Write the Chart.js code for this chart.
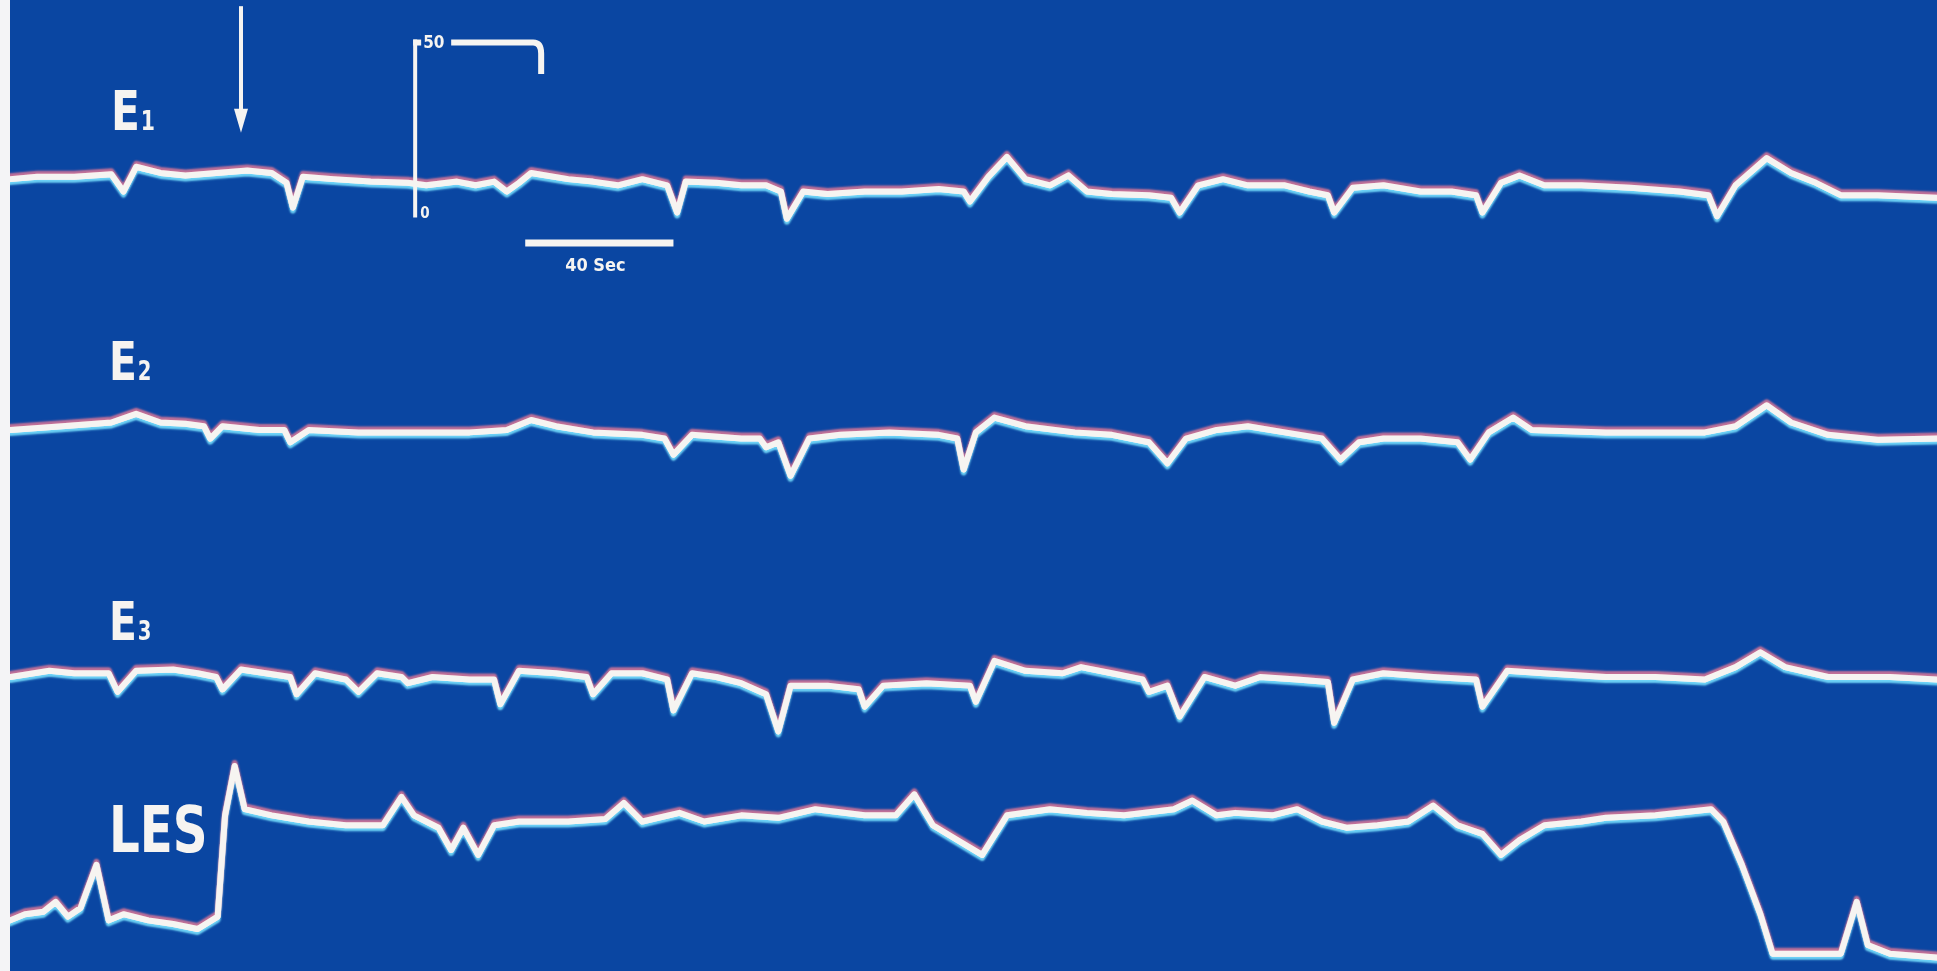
<!DOCTYPE html>
<html>
<head>
<meta charset="utf-8">
<title>Oesophageal manometry trace</title>
<script src="https://cdn.jsdelivr.net/npm/chart.js@4.4.1/dist/chart.umd.min.js"></script>
<style>
  html, body { margin: 0; padding: 0; background: #f4f4f6; overflow: hidden; }
  #wrap {
    position: absolute; left: 10px; top: 0;
    width: 1927px; height: 971px;
    background: #0a46a2;
  }
  canvas { display: block; }
</style>
</head>
<body>
<div id="wrap"><canvas id="trace" width="1927" height="971"></canvas></div>
<script>
/* time in seconds (40 s scale bar), pressure in mmHg above each channel's zero */

const E1_TIME = [2.7,10,20,30,33.3,36.7,43.3,50,58.3,66.7,73.3,77.3,79,81.7,90,100,110,115,123.3,128.3,
  133.3,136.7,140,143.3,153.3,160,166.7,173.3,180,182.7,185,193.3,200,206.7,210.7,212.3,216.7,223.3,233.3,243.3,
  253.3,260,261.7,266.7,271.7,276.7,283.3,288.3,293.3,300,310,316,318.3,323.3,330,336.7,346.7,353.3,358.3,360,
  365,373.3,383.3,391.7,398.3,400,405,410,416.7,426.7,440,453.3,461,463.3,468.3,476.7,483.3,490,496.7,506.7,522.7];
const E1_MMHG = [10,10.8,10.8,11.6,6,14,12,11.2,12,12.8,12,8.8,0.8,10.8,10,9.2,8.8,8,9.2,8,
  9.2,6,8.8,12,10,9.2,8,10,8,-0.8,9.2,8.8,8,8,6,-2.8,6,5.2,6,6,
  6.8,6,2.8,10.8,17.2,10,8,11.2,6,5.2,4.8,4,-0.8,8,10,8,8,6,4.8,-0.8,
  7.2,8,6,6,4.8,-0.8,8.8,11.2,8,8,7.2,6,4.8,-2,8,16.8,12,8.8,4.8,4.8,4];

const E2_TIME = [2.7,16.7,30,36.7,43.3,50,55,56.7,60,70,76.7,78.3,83.3,96.7,110,126.7,136.7,143.3,150,160,
  173.3,179.3,181.7,186.7,200,205,206.7,210,213.3,218.3,226.7,240,253.3,258.3,260,263.3,268.3,276.7,290,300,
  310,315,320,328.3,336.7,346.7,356.7,361.7,366.7,373.3,383.3,393.3,396.7,401.7,408.3,413.3,433.3,460,468.3,476.7,
  483.3,493.3,506.7,522.7];
const E2_MMHG = [8.8,10,11.2,14,11.2,10.8,10,6,10,8.8,8.8,4.8,8.8,8,8,8,8.8,12,10,8,
  7.2,6,0.8,7.2,6,6,3.2,4.8,-6,6,7.2,8,7.2,6,-4,8,12.8,10,8,7.2,
  4.8,-2,6,8.8,10,8,6,-0.8,4.8,6,6,4.8,-0.8,8,12.8,8.8,8,8,10,16.8,
  11.2,7.2,5.6,6];

const E3_TIME = [2.7,13.3,20,29.3,31.7,36.7,46.7,53.3,58.3,60,65,71.7,78.3,80,85,93.3,96.7,101.7,108.3,110,
  116.7,126.7,133.3,135,140,150,158.3,160,165,173.3,180,181.7,186.7,193.3,200,206.7,210,213.3,223.3,231.7,
  233.3,238.3,250,261.7,263.3,268.3,276.7,286.7,291.7,300,308.3,310,315,318.3,325,333.3,340,350,358.3,360,
  365,373.3,386.7,398.3,400,406.7,416.7,433.3,446.7,460,468.3,475,481.7,493.3,510,522.7];
const E3_MMHG = [8.8,10.8,10,10,4,10.8,11.2,10,8.8,4.8,11.2,10,8.8,3.2,10,8,4,10,8.8,6.8,
  8.8,8,8,0,10.8,10,8.8,3.2,10,10,8,-2,10,8.8,6.8,3.2,-8.8,6,6,4.8,
  -0.8,6,6.8,6,0.8,14,10.8,10,12,10,8,4,6,-4,8.8,6,8.8,8,7.2,-6,
  8,10,8.8,8,-0.8,10.8,10,8.8,8.8,8,12,16.8,12,8.8,8.8,8];

const LES_TIME = [2.7,6.7,11.7,15,18.3,21.7,26,29.3,33.3,40,46.7,53.3,58.7,60.7,63.3,66,73.3,83.3,93.3,103.3,
  108.3,111.7,118.3,121.7,125,129,133.3,140,153.3,163.3,168.3,173.3,183.3,190,200,210,220,233.3,241.7,246.7,
  251.7,258.3,265,271.7,283.3,293.3,303.3,316.7,321.7,328.3,333.3,343.3,350,356.7,363.3,371.7,380,386.7,393.3,400,
  405,410,416.7,426.7,433.3,446.7,461.7,465,470,475,478.3,486.7,496.7,501,504,510,522.7];
const LES_MMHG = [18,20,20.8,24,19.2,22,36,18,20,18,16.8,15.2,19.2,52,68,54,52,50,48.8,48.8,
  58,52,48,40.8,48,39.2,48.8,50,50,50.8,56,50,52.8,50,52,51.2,54,52,52,58.8,
  48.8,44,39.2,52,54,52.8,52,54,56.8,52,52.8,52,54,50,48,48.8,50,55.2,48.8,46,
  39.2,44,48.8,50,51.2,52,54,50,36,20,7.2,7.2,7.2,24,10,7.2,6];

const CHANNELS = ['E1', 'E2', 'E3', 'LES'];

// markers on the E1 channel
const SWALLOW_T = 65, SWALLOW_MMHG = [66, 25];
const CAL_T = 112, CAL_END_T = 146, CAL_MMHG = [-2.4, 55.2], CAL_HOOK_MMHG = 44;
const BAR_T = [141.7, 181.7], BAR_MMHG = -10.7, BAR_LABEL = '40 Sec';

const WHITE = '#f6f4f1';
const SPAN = 314.4; // visible mmHg range of every channel axis

function pts(ts, vs) { return ts.map((t, i) => ({ x: t, y: vs[i] })); }

// zero of each channel sits at a different height of the strip
const axisTop = { E1: 68, E2: 148, E3: 228, LES: 316 };

const scales = {
  x: { type: 'linear', display: false, min: 8 / 3, max: 1568 / 3 }
};
CHANNELS.forEach(c => {
  scales[c] = { type: 'linear', display: false, max: axisTop[c], min: axisTop[c] - SPAN };
});

const series = [
  [E1_TIME, E1_MMHG], [E2_TIME, E2_MMHG], [E3_TIME, E3_MMHG], [LES_TIME, LES_MMHG]
];

// photo fringe: cyan under the trace, pink above it
const glow = {
  id: 'glow',
  beforeDatasetsDraw(chart) {
    const ctx = chart.ctx;
    ctx.save();
    ctx.shadowColor = 'rgba(120,225,255,0.9)';
    ctx.shadowOffsetY = 3;
    ctx.shadowBlur = 2;
  },
  afterDatasetsDraw(chart) {
    const ctx = chart.ctx;
    ctx.restore();
    ctx.save();
    ctx.shadowColor = 'rgba(225,120,150,0.85)';
    ctx.shadowOffsetY = -3;
    ctx.shadowBlur = 2;
    chart.data.datasets.forEach((d, i) => {
      const meta = chart.getDatasetMeta(i);
      meta.dataset.draw(ctx, chart.chartArea);
    });
    ctx.restore();
  }
};

const marks = {
  id: 'marks',
  afterDraw(chart) {
    const ctx = chart.ctx;
    const xs = chart.scales.x, ys = chart.scales.E1;
    ctx.save();
    ctx.strokeStyle = WHITE;
    ctx.fillStyle = WHITE;
    ctx.lineCap = 'butt';

    // swallow arrow
    const ax = xs.getPixelForValue(SWALLOW_T);
    const aTop = ys.getPixelForValue(SWALLOW_MMHG[0]);
    const aBot = ys.getPixelForValue(SWALLOW_MMHG[1]);
    ctx.lineWidth = 4;
    ctx.beginPath(); ctx.moveTo(ax, aTop); ctx.lineTo(ax, aBot - 16); ctx.stroke();
    ctx.beginPath();
    ctx.moveTo(ax - 7, aBot - 24); ctx.lineTo(ax + 7, aBot - 24); ctx.lineTo(ax, aBot); ctx.closePath();
    ctx.fill();

    // calibration bracket
    const cx = xs.getPixelForValue(CAL_T);
    const cEnd = xs.getPixelForValue(CAL_END_T);
    const c0 = ys.getPixelForValue(CAL_MMHG[0]);
    const c1 = ys.getPixelForValue(CAL_MMHG[1]);
    const cHook = ys.getPixelForValue(CAL_HOOK_MMHG);
    ctx.lineWidth = 4;
    ctx.beginPath(); ctx.moveTo(cx, c0); ctx.lineTo(cx, c1); ctx.stroke();
    ctx.lineWidth = 6;
    ctx.beginPath(); ctx.moveTo(cx - 2, c1 + 3); ctx.lineTo(cx + 6, c1 + 3); ctx.stroke();
    ctx.beginPath();
    ctx.moveTo(cx + 36, c1 + 3);
    ctx.lineTo(cEnd - 8, c1 + 3);
    ctx.quadraticCurveTo(cEnd, c1 + 3, cEnd, c1 + 14);
    ctx.lineTo(cEnd, cHook);
    ctx.stroke();
    ctx.font = 'bold 17px "DejaVu Sans Condensed", sans-serif';
    ctx.textBaseline = 'middle';
    ctx.fillText('50', cx + 8, c1 + 4);
    ctx.font = 'bold 15px "DejaVu Sans Condensed", sans-serif';
    ctx.textBaseline = 'alphabetic';
    ctx.fillText('0', cx + 5, c0 + 1);

    // time scale bar
    const b0 = xs.getPixelForValue(BAR_T[0]), b1 = xs.getPixelForValue(BAR_T[1]);
    const by = ys.getPixelForValue(BAR_MMHG);
    ctx.lineWidth = 7;
    ctx.beginPath(); ctx.moveTo(b0, by); ctx.lineTo(b1, by); ctx.stroke();
    ctx.font = 'bold 18px "DejaVu Sans Condensed", sans-serif';
    ctx.textAlign = 'center';
    ctx.fillText(BAR_LABEL, (b0 + b1) / 2 - 4, by + 28);

    // channel names
    const label = (main, sub, x, base, size) => {
      ctx.save();
      ctx.translate(x, base);
      ctx.scale(0.84, 1);
      ctx.textAlign = 'left';
      ctx.font = `bold ${size}px "Liberation Sans Narrow", "DejaVu Sans Condensed", sans-serif`;
      ctx.fillText(main, 0, 0);
      if (sub) {
        const w = ctx.measureText(main).width;
        ctx.font = `bold ${Math.round(size * 0.48)}px "Liberation Sans Narrow", "DejaVu Sans Condensed", sans-serif`;
        ctx.fillText(sub, w + 1, 0);
      }
      ctx.restore();
    };
    label('E', '1', 101, 130, 56);
    label('E', '2', 99, 380, 54);
    label('E', '3', 99, 640, 54);
    label('LES', '', 99, 852, 64);
    ctx.restore();
  }
};

new Chart(document.getElementById('trace'), {
  type: 'line',
  data: {
    datasets: series.map(([t, v], i) => ({
      label: CHANNELS[i],
      data: pts(t, v),
      yAxisID: CHANNELS[i],
      borderColor: WHITE,
      borderWidth: 6,
      borderJoinStyle: 'round',
      borderCapStyle: 'round',
      pointRadius: 0,
      tension: 0,
      fill: false
    }))
  },
  options: {
    responsive: false,
    animation: false,
    layout: { padding: 0 },
    plugins: { legend: { display: false }, tooltip: { enabled: false } },
    scales
  },
  plugins: [glow, marks]
});
</script>
</body>
</html>
